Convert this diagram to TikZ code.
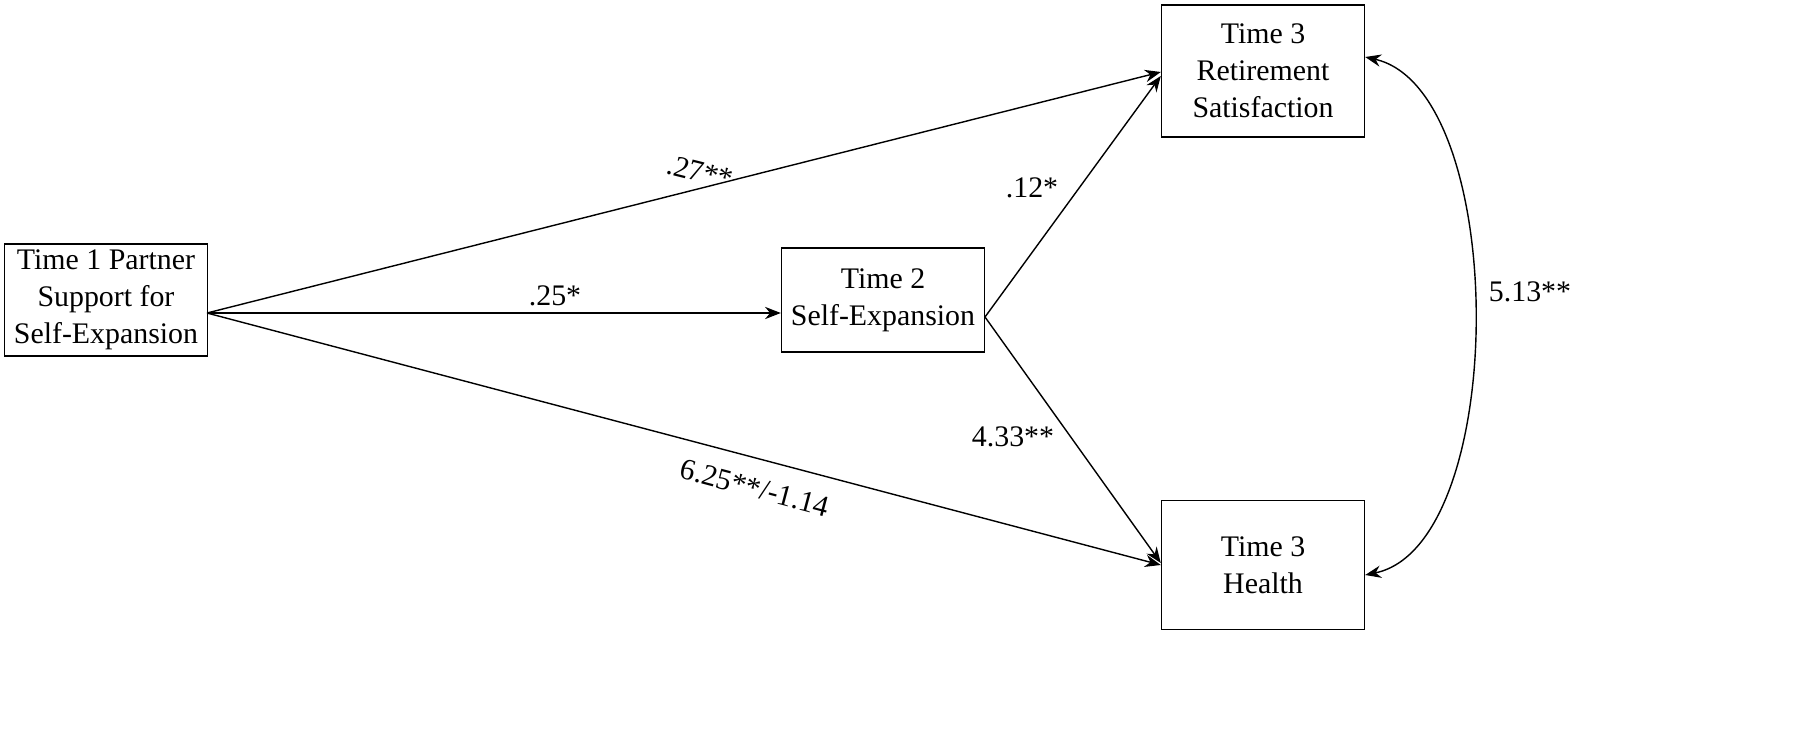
\documentclass[tikz,border=0pt]{standalone}
\usepackage{fontspec}
\setmainfont{Liberation Serif}
\usetikzlibrary{arrows.meta,positioning}
\begin{document}
\begin{tikzpicture}[x=0.02cm,y=-0.02cm,>={Stealth[length=9pt,width=7pt]},thick,
  font=\fontsize{17}{21}\selectfont]
 \tikzset{
 	var node/.style={rectangle,draw=black,thick,align=center,minimum width=203*0.02cm},
 	coef node/.style={inner sep=1pt}
 }
 \useasboundingbox (0,0) rectangle (1810,734);

       \node[var node,minimum height=104*0.02cm] (t1) at (106,300) {Time 1 Partner\\Support for\\Self-Expansion};
       \node[var node,minimum height=104*0.02cm] (t2) at (883,300) {Time 2\\Self-Expansion};
       \node[var node,minimum height=132*0.02cm] (rs) at (1263,71) {Time 3\\Retirement\\Satisfaction};
       \node[var node,minimum height=129*0.02cm] (h) at (1263,565) {Time 3\\Health};

       \coordinate (src) at (207,313);
       \coordinate (mid) at (985,317);

     \path[->]  (src) edge (rs.west |- 0,72);
     \path[->]  (src) edge (t2.west |- src);
     \path[->]  (src) edge (h.west |- 0,565);
     \path[->]  (mid) edge (rs.west |- 0,76);
     \path[->]  (mid) edge (h.west |- 0,563);
     \draw[<->] (rs.east |- 0,57) .. controls (1510,90) and (1510,545) .. (h.east |- 0,575);

     \node[coef node,rotate=-14] (c1) at (700,172) {.27**};
     \node[coef node] (c2) at (555,296) {.25*};
     \node[coef node] (c3) at (1032,188) {.12*};
     \node[coef node] (c4) at (1013,437) {4.33**};
     \node[coef node,rotate=-14.8] (c5) at (755,488) {6.25**/-1.14};
     \node[coef node] (c6) at (1530,292) {5.13**};
 \end{tikzpicture}
\end{document}
